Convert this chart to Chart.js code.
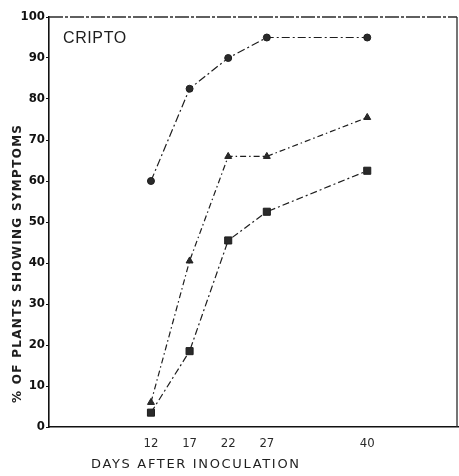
<!DOCTYPE html>
<html>
<head>
<meta charset="utf-8">
<script src="https://cdn.jsdelivr.net/npm/chart.js@4/dist/chart.umd.min.js"></script>
<style>
  html, body { margin: 0; padding: 0; background: #fff; }
  canvas { display: block; }
</style>
</head>
<body>
<canvas id="chart" width="459" height="476"></canvas>
<script>
// days after inoculation, and % of plants showing symptoms for each line
var days = [12, 17, 22, 27, 40];
var circleSeries = [60, 82.5, 90, 95, 95];
var triangleSeries = [6, 40.5, 66, 66, 75.5];
var squareSeries = [3.5, 18.5, 45.5, 52.5, 62.5];
var yTicks = [0, 10, 20, 30, 40, 50, 60, 70, 80, 90, 100];

var INK = '#1e1e1e';
var tickFont = "'DejaVu Sans Condensed', 'Liberation Sans Narrow', 'DejaVu Sans', sans-serif";

function points(values) {
    return days.map(function (d, i) { return { x: d, y: values[i] }; });
}

function series(values, style, radius, dash) {
    return {
        data: points(values),
        borderColor: INK,
        borderWidth: 1.2,
        borderDash: dash,
        pointStyle: style,
        pointRadius: radius,
        pointBackgroundColor: '#2a2a2a',
        pointBorderColor: INK,
        pointBorderWidth: 1,
        tension: 0
    };
}

// frame top/right, axis titles and the panel label
var decorations = {
    id: 'decorations',
    afterDraw: function (chart) {
        var ctx = chart.ctx;
        var a = chart.chartArea;
        ctx.save();
        ctx.strokeStyle = '#2b2b2b';
        ctx.lineWidth = 1.3;
        ctx.setLineDash([14, 2, 3, 2]);
        ctx.beginPath();
        ctx.moveTo(a.left, a.top);
        ctx.lineTo(a.right - 1, a.top);
        ctx.stroke();
        ctx.setLineDash([]);
        ctx.beginPath();
        ctx.moveTo(a.right - 1, a.top);
        ctx.lineTo(a.right - 1, a.bottom);
        ctx.stroke();

        ctx.fillStyle = INK;
        ctx.textBaseline = 'alphabetic';
        ctx.font = "16px 'Liberation Sans', Arial, sans-serif";
        ctx.textAlign = 'left';
        ctx.letterSpacing = '0.6px';
        ctx.fillText('CRIPTO', 63, 43);

        // x title, spread to its lettered width
        var xt = 'DAYS AFTER INOCULATION';
        ctx.font = "13px 'DejaVu Sans', sans-serif";
        ctx.letterSpacing = '0px';
        var w = ctx.measureText(xt).width;
        ctx.letterSpacing = ((208 - w) / (xt.length - 1)) + 'px';
        ctx.fillText(xt, 91, 468);

        // y title, rotated
        var yt = '% OF PLANTS SHOWING SYMPTOMS';
        ctx.font = "bold 12px 'DejaVu Sans', sans-serif";
        ctx.letterSpacing = '0px';
        var wy = ctx.measureText(yt).width;
        ctx.letterSpacing = ((278 - wy) / (yt.length - 1)) + 'px';
        ctx.translate(21, 403);
        ctx.rotate(-Math.PI / 2);
        ctx.fillText(yt, 0, 0);
        ctx.restore();
    }
};

new Chart(document.getElementById('chart'), {
    type: 'line',
    data: {
        datasets: [
            series(circleSeries, 'circle', 3.5, [8, 3, 2, 3]),
            series(triangleSeries, 'triangle', 4, [6, 3, 1.5, 3]),
            series(squareSeries, 'rect', 5, [7, 3, 2, 3])
        ]
    },
    plugins: [decorations],
    options: {
        responsive: false,
        animation: false,
        layout: { autoPadding: false, padding: { top: 17, right: 1, left: 0, bottom: 0 } },
        plugins: {
            legend: { display: false },
            tooltip: { enabled: false }
        },
        scales: {
            x: {
                type: 'linear',
                min: -1.2,
                max: 51.75,
                afterBuildTicks: function (scale) {
                    scale.ticks = days.map(function (d) { return { value: d }; });
                },
                afterFit: function (scale) {
                    scale.height = 49;
                    scale.paddingLeft = 0;
                    scale.paddingRight = 0;
                },
                grid: { display: false },
                border: { display: true, color: '#111', width: 1.6 },
                ticks: {
                    color: '#2a2a2a',
                    padding: 1,
                    font: { family: tickFont, size: 13 }
                }
            },
            y: {
                min: 0,
                max: 100,
                afterBuildTicks: function (scale) {
                    scale.ticks = yTicks.map(function (v) { return { value: v }; });
                },
                afterFit: function (scale) {
                    scale.width = 49;
                    scale.paddingTop = 0;
                    scale.paddingBottom = 0;
                },
                grid: { drawOnChartArea: false, drawTicks: true, tickLength: 3, color: '#111' },
                border: { display: true, color: '#111', width: 1.6 },
                ticks: {
                    color: '#111',
                    padding: 1,
                    font: { family: tickFont, size: 13, weight: 'bold' }
                }
            }
        }
    }
});
</script>
</body>
</html>
